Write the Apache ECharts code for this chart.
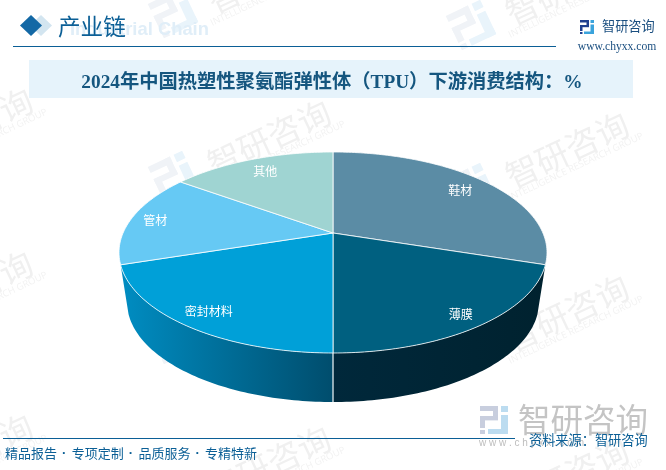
<!DOCTYPE html>
<html>
<head>
<meta charset="UTF-8">
<title>TPU</title>
<style>
html,body{margin:0;padding:0;background:#fff;}
#main{width:666px;height:470px;}
</style>
<script src="https://cdn.jsdelivr.net/npm/echarts@6/dist/echarts.min.js"></script>
</head>
<body>
<div id="main"></div>
<script>
// chart data
var categories = ['鞋材', '薄膜', '密封材料', '管材', '其他'];
var shareValues = [30, 20, 20, 15, 15];
var chartTitle = '2024年中国热塑性聚氨酯弹性体（TPU）下游消费结构：%';
var footerPhrases = ['精品报告', '专项定制', '品质服务', '专精特新'];

// styles, same order as categories
var topColors = ['#5b8ca5', '#006080', '#00a0d8', '#66c9f4', '#9fd4d2'];
var wallColors = [null, ['#00283b', '#00222f'], ['#008dc2', '#004d6d'], null, null];
var labelRadius = [0.82, 0.89, 0.87, 0.88, 0.81];

var CN = '"Noto Sans CJK SC"';
var TITLE_FONT = '"Liberation Serif","Noto Sans CJK SC"';
var BLUE = '#0b5f96';

// the pie is an ellipse with its apex off centre (perspective of the original)
var top_ = { cx: 333, cy: 252.5, rx: 214, ry: 100.5 };
var bottom_ = { cx: 333, cy: 302, rx: 206, ry: 100 };
var APEX = -0.194;

function project(e, deg, r) {
	var t = deg * Math.PI / 180;
	var u = r * Math.sin(t), v = -r * Math.cos(t);
	var d = 1 + APEX * v;
	return [e.cx + e.rx * u * Math.sqrt(1 - APEX * APEX) / d, e.cy + e.ry * (v + APEX) / d];
}
function arc(e, a0, a1) {
	var pts = [], n = Math.ceil(Math.abs(a1 - a0));
	for (var i = 0; i <= n; i++) pts.push(project(e, a0 + (a1 - a0) * i / n, 1));
	return pts;
}

var total = shareValues.reduce(function(a, b) { return a + b; }, 0);
function startAngle(idx) {
	var s = 0;
	for (var i = 0; i < idx; i++) s += shareValues[i];
	return s / total * 360;
}

function renderSlice(params, api) {
	var i = params.dataIndex;
	var a0 = startAngle(i);
	var a1 = a0 + api.value(0) / total * 360;
	var kids = [];
	if (wallColors[i]) {
		kids.push({
			type: 'polygon',
			shape: { points: arc(top_, a0, a1).concat(arc(bottom_, a1, a0)) },
			style: {
				fill: { type: 'linear', x: 0, y: 0, x2: 1, y2: 0, colorStops: [
					{ offset: 0, color: wallColors[i][0] }, { offset: 1, color: wallColors[i][1] }
				] }
			}
		});
		if (wallColors[i - 1]) {
			var p = project(top_, a0, 1), q = project(bottom_, a0, 1);
			kids.push({ type: 'line', shape: { x1: p[0], y1: p[1], x2: q[0], y2: q[1] },
				style: { stroke: '#c3d3da', lineWidth: 1.5 } });
		}
	}
	var apex = project(top_, 0, 0);
	kids.push({
		type: 'polygon',
		z2: 5,
		shape: { points: [apex].concat(arc(top_, a0, a1)) },
		style: { fill: topColors[i], stroke: 'rgba(255,255,255,0.8)', lineWidth: 1 }
	});
	var lp = project(top_, (a0 + a1) / 2, labelRadius[i]);
	kids.push({
		type: 'text',
		z2: 6,
		style: { text: categories[i], x: lp[0], y: lp[1], fill: '#fff',
			font: '12px ' + CN, align: 'center', verticalAlign: 'middle' }
	});
	return { type: 'group', children: kids };
}

function logo(x, y, size, rot, dark, light) {
	var s = size / 14;
	function r(a, b, w, h, c) { return { type: 'rect', shape: { x: a, y: b, width: w, height: h }, style: { fill: c } }; }
	return {
		type: 'group', x: x, y: y, rotation: rot, scaleX: s, scaleY: s, silent: true,
		children: [
			r(-7, -7, 9, 2.5, dark), r(-0.5, -7, 2.5, 7, dark), r(-7, -2, 9, 2.2, dark),
			r(-7, -2, 2.5, 6, dark), r(-7, 5, 2.5, 2, dark),
			r(3.5, -7, 3.5, 3, light), r(3.5, -2.5, 3.5, 9.5, light), r(-3, 4.5, 10, 2.5, light)
		]
	};
}
function label(text, x, y, font, fill, align, rot) {
	return { type: 'text', x: x, y: y, rotation: rot || 0, silent: true,
		style: { text: text, font: font, fill: fill, align: align || 'left', verticalAlign: 'middle' } };
}
function rect(x, y, w, h, fill) {
	return { type: 'rect', silent: true, shape: { x: x, y: y, width: w, height: h }, style: { fill: fill } };
}

var marks = [];
// faint tiled watermark
var ROT = 0.44;
for (var col = 0; col < 3; col++) {
	for (var row = -1; row < 3; row++) {
		var wx = 18 + 298 * col, wy = 103 + 12 * col + 163 * row;
		marks.push(logo(wx - 143, wy + 61, 38, ROT, '#f0f3f7', '#e9f4fb'));
		marks.push(label('智研咨询', wx - 47, wy + 23, '33px ' + CN, '#f0f0f0', 'center', ROT));
		marks.push(label('INTELLIGENCE RESEARCH GROUP', wx - 38, wy + 40, '9.5px "Open Sans"', '#f2f2f2', 'center', ROT));
	}
}
// header
marks.push(label('Industrial Chain', 70, 30, 'bold 18.4px "Liberation Sans"', '#e0eef8'));
marks.push({ type: 'polygon', silent: true, shape: { points: [[41, 15], [52, 25.5], [41, 36], [30, 25.5]] }, style: { fill: '#d3e5f0' } });
marks.push({ type: 'polygon', silent: true, shape: { points: [[31, 15], [42, 25.5], [31, 36], [20, 25.5]] }, style: { fill: '#1368a5' } });
marks.push(label('产业链', 58, 26, '22.6px ' + CN, BLUE));
marks.push(rect(13, 46, 543, 1, BLUE));
marks.push(logo(587, 27, 14, 0, '#1f3f8f', '#3aa3dc'));
marks.push(label('智研咨询', 602, 26, '13.2px ' + CN, '#1b4f80'));
marks.push(label('www.chyxx.com', 617, 47, '11.6px "Liberation Serif"', '#1b4f80', 'center'));
// title band
marks.push(rect(29, 60, 604, 38, '#e6f3fb'));
// footer
marks.push(logo(494, 420, 28, 0, '#c8cede', '#bcdcf0'));
marks.push(label('智研咨询', 518, 420, '32.5px ' + CN, '#c4c4c4'));
marks.push(label('w w w . c h y x x . c o m', 479, 443, '10px "Liberation Sans"', '#bdbdbd'));
marks.push(rect(3, 438, 512, 1, BLUE));
footerPhrases.forEach(function(text, i) {
	var x = 5 + i * 66.7;
	marks.push(label(text, x, 453, '13px ' + CN, BLUE));
	if (i > 0) marks.push(label('·', x - 7.5, 453, 'bold 13px "Liberation Sans"', BLUE, 'center'));
});
marks.push(label('资料来源：智研咨询', 529, 440, '13.2px ' + CN, BLUE));

var myChart = echarts.init(document.getElementById('main'));
var option = {
	animation: false,
	backgroundColor: '#fff',
	title: {
		text: chartTitle,
		left: 327,
		top: 68,
		textAlign: 'center',
		z: 5,
		textStyle: { fontFamily: TITLE_FONT, fontSize: 19.3, fontWeight: 'bold', color: '#15567f' }
	},
	graphic: { z: 1, elements: marks },
	series: [{
		type: 'custom',
		coordinateSystem: 'none',
		z: 3,
		silent: true,
		renderItem: renderSlice,
		data: shareValues
	}]
};
myChart.setOption(option);
</script>
</body>
</html>
